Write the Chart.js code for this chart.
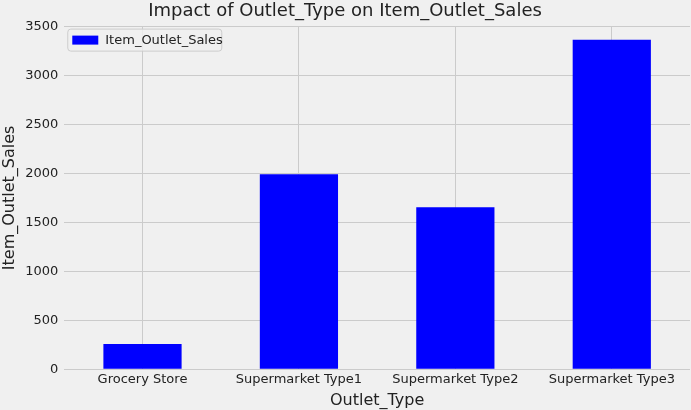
<!DOCTYPE html>
<html><head><meta charset="utf-8">
<script src="https://cdn.jsdelivr.net/npm/chart.js@4/dist/chart.umd.min.js"></script>
<style>html,body{margin:0;background:#f0f0f0;}#w{width:691px;height:410px;}</style>
</head><body><div id="w"><canvas id="c"></canvas></div>
<script>
const categories = ["Grocery Store","Supermarket Type1","Supermarket Type2","Supermarket Type3"];
const sales = [256.9, 1990.7, 1655.2, 3364.9];
const seriesName = "Item_Outlet_Sales";
const font = "'DejaVu Sans', sans-serif";
const legendPlugin = {
  id:'lg',
  afterDraw(chart){
    const a = chart.chartArea, ctx = chart.ctx;
    ctx.save();
    const x = a.left+3, y = a.top+2;
    ctx.fillStyle = 'rgba(240,240,240,0.8)';
    ctx.strokeStyle = '#cccccc';
    ctx.lineWidth = 1;
    ctx.beginPath(); ctx.roundRect(x+0.5,y+0.5,154,22,3); ctx.fill(); ctx.stroke();
    ctx.fillStyle = '#0000ff';
    ctx.fillRect(x+5,y+7,26,9);
    ctx.fillStyle = '#222';
    ctx.font = "13px " + font;
    ctx.textBaseline = 'middle';
    ctx.fillText(seriesName, x+38, y+12);
    ctx.restore();
  }
};
new Chart(document.getElementById('c'), {
  type:'bar',
  data:{labels:categories, datasets:[{label:seriesName, data:sales, backgroundColor:'#0000ff', categoryPercentage:0.5, barPercentage:1}]},
  options:{
    responsive:true, maintainAspectRatio:false, animation:false,
    layout:{padding:{left:0,right:1,top:0,bottom:0}},
    plugins:{
      legend:{display:false}, tooltip:{enabled:false},
      title:{display:true, text:'Impact of Outlet_Type on Item_Outlet_Sales', color:'#222', font:{family:font,size:18,weight:'normal'}, padding:{top:1,bottom:4}}
    },
    scales:{
      x:{grid:{color:'#cbcbcb',lineWidth:1,offset:false,drawTicks:false}, border:{display:false},
         ticks:{color:'#222',font:{family:font,size:13},padding:3},
         title:{display:true,text:'Outlet_Type',color:'#222',font:{family:font,size:16},padding:{top:0,bottom:0}}},
      y:{min:0,max:3500, grid:{color:'#cbcbcb',lineWidth:1,drawTicks:false}, border:{display:false},
         ticks:{stepSize:500,color:'#222',font:{family:font,size:13},padding:6,callback:v=>String(v)},
         title:{display:true,text:'Item_Outlet_Sales',color:'#222',font:{family:font,size:16},padding:{top:0,bottom:0}}}
    }
  },
  plugins:[legendPlugin]
});
</script></body></html>
